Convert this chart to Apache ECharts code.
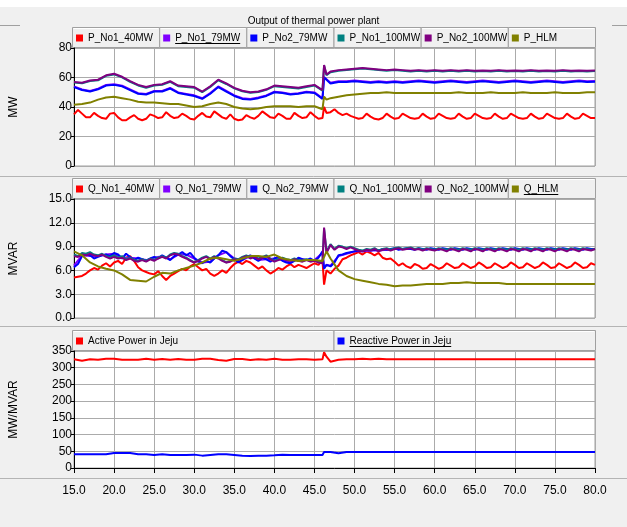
<!DOCTYPE html>
<html>
<head>
<meta charset="utf-8">
<script src="https://cdn.jsdelivr.net/npm/echarts@6/dist/echarts.min.js"></script>
<style>
html, body { margin: 0; padding: 0; background: #f0f0f0; }
#main { width: 627px; height: 527px; }
</style>
</head>
<body>
<div id="main"></div>
<script>
// time axes (s)
var T_FINE = [15,15.5,16,16.5,17,17.5,18,18.5,19,19.5,20,20.5,21,21.5,22,22.5,23,23.5,24,24.5,
  25,25.5,26,26.5,27,27.5,28,28.5,29,29.5,30,30.5,31,31.5,32,32.5,33,33.5,34,34.5,
  35,35.5,36,36.5,37,37.5,38,38.5,39,39.5,40,40.5,41,41.5,42,42.5,43,43.5,44,44.5,
  45,45.5,46,46.2,46.5,47,47.5,48,48.5,49,49.5,
  50,50.5,51,51.5,52,52.5,53,53.5,54,54.5,55,55.5,56,56.5,57,57.5,58,58.5,59,59.5,
  60,60.5,61,61.5,62,62.5,63,63.5,64,64.5,65,65.5,66,66.5,67,67.5,68,68.5,69,69.5,
  70,70.5,71,71.5,72,72.5,73,73.5,74,74.5,75,75.5,76,76.5,77,77.5,78,78.5,79,79.5,80];
var T_COARSE = [15,16,17,18,19,20,21,22,23,24,25,26,27,28,29,30,31,32,33,34,35,36,37,38,39,40,
  41,42,43,44,45,46,46.2,46.5,
  47,48,49,50,51,52,53,54,55,56,57,58,59,60,61,62,63,64,65,66,67,68,69,70,71,72,73,74,75,76,77,78,79,80];

var X_TICKS = [15, 80, 5];

// panel 1: active power (MW)
var P_No1_40MW = [35,38,35.5,33,33,36,34,32.5,32,35.5,
  36,33,31,31,33,34.5,32,31,32,35,
  34,32.5,33,36.5,34,32.5,33,35.5,34,32,
  31.5,34,36,33.5,33,37,35,33,32,35,
  32,31,31.5,34.5,33,32,34,37,35,33,
  32.5,35.5,34,32,32,36,34,32.5,33,36.5,
  34,32,32.5,
  40,36,36.5,38.5,36,34.5,35.5,34,
  33,32,32.5,35.5,33.5,32,31.5,32.5,35.5,33.5,
  32,32.5,35.5,34,32.5,32,32.5,35.5,33.5,32,
  32.5,35.5,34,32.5,32,32.5,35.5,33.5,32,32.5,
  35.5,34,32.5,32,32.5,35.5,33.5,32,32.5,35.5,
  34,32.5,32,32.5,35.5,33.5,32,32.5,35.5,34,
  32.5,32,32.5,35.5,33.5,32,32.5,35.5,34,32.5,
  32.5];
var P_No1_79MW = [53.9,51.9,50.9,52.4,54.9,55.4,54.4,51.9,49.4,48.9,
  50.9,50.9,52.9,49.9,48.9,47.9,45.9,49.4,53.9,50.9,
  47.9,45.9,45.4,46.4,47.9,50.4,49.9,48.9,49.4,50.4,
  49.9,45.9,
  60.4,58.9,
  56.4,57.4,57.4,57.9,57.4,56.9,57.4,56.9,57.4,56.9,
  57.4,57.9,57.4,56.9,57.4,57.9,57.4,56.9,57.4,57.9,
  57.4,56.9,57.4,57.9,57.4,56.9,57.4,57.9,57.4,56.9,
  57.4,57.9,57.4,57.6];
var P_No2_79MW = [53.5,51.5,50.5,52,54.5,55,54,51.5,49,48.5,
  50.5,50.5,52.5,49.5,48.5,47.5,45.5,49,53.5,50.5,
  47.5,45.5,45,46,47.5,50,49.5,48.5,49,50,
  49.5,45.5,
  60,58.5,
  56,57,57,57.5,57,56.5,57,56.5,57,56.5,
  57,57.5,57,56.5,57,57.5,57,56.5,57,57.5,
  57,56.5,57,57.5,57,56.5,57,57.5,57,56.5,
  57,57.5,57,57.2];
var P_No1_100MW = [56.6,56.1,57.6,58.1,61.1,62.1,60.1,57.1,54.6,53.1,
  54.6,55.1,57.1,54.1,53.6,53.1,50.1,53.6,58.1,55.6,
  52.6,50.6,49.6,50.1,51.6,54.1,53.6,53.1,52.6,53.6,
  54.6,51.1,
  68,61.6,
  63.6,64.6,65.1,65.6,66.1,65.6,65.1,64.6,65.1,64.6,
  64.1,64.6,64.1,64.6,64.1,64.6,64.1,64.6,64.1,64.4,
  64.1,64.6,64.1,64.4,64.1,64.6,64.1,64.4,64.1,64.6,
  64.1,64.4,64.1,64.4];
var P_No2_100MW = [57,56.5,58,58.5,61.5,62.5,60.5,57.5,55,53.5,
  55,55.5,57.5,54.5,54,53.5,50.5,54,58.5,56,
  53,51,50,50.5,52,54.5,54,53.5,53,54,
  55,51.5,
  68.5,62,
  64,65,65.5,66,66.5,66,65.5,65,65.5,65,
  64.5,65,64.5,65,64.5,65,64.5,65,64.5,64.8,
  64.5,65,64.5,64.8,64.5,65,64.5,64.8,64.5,65,
  64.5,64.8,64.5,64.8];
var P_HLM = [41.5,42,43,45,46.5,47,46,45,43.5,43,
  43,42.5,42,42,41,40,40.5,42,43,42,
  40,39,38.5,39,40,40.5,40.5,40.5,40,40.5,
  40.5,38.5,
  47,45,
  46,47,48,48.5,49,49.5,49.5,50,49.5,49.5,
  49.5,49.5,49.5,49.5,49.5,49.5,50,49.5,49.5,49.5,
  50,49.5,49.5,49.5,50,49.5,49.5,49.5,50,49.5,
  49.5,49.5,50,50];

// panel 2: reactive power
var Q_No1_40MW = [5.1,5.2,5.3,5.6,6.0,6.3,6.1,6.6,6.9,6.5,
  7.0,7.2,6.8,7.6,7.8,7.2,6.4,6.0,5.8,5.6,
  5.5,5.9,5.3,4.8,5.3,5.6,5.9,6.2,6.0,6.5,
  6.8,6.4,6.0,6.2,5.6,5.3,5.6,6.0,5.7,6.3,
  6.8,7.1,6.8,7.2,7.0,6.6,6.2,6.5,6.0,5.6,
  5.9,6.3,6.1,6.5,6.8,6.4,6.7,6.5,6.3,6.6,
  6.9,6.7,7.3,
  4.2,6.0,5.6,6.2,6.6,7.4,7.6,7.9,
  8.1,8.3,8.0,8.4,8.2,7.9,8.2,7.6,7.4,7.5,
  7.1,6.6,6.9,6.5,6.3,6.8,6.6,6.2,6.3,6.8,
  6.5,6.2,6.4,6.9,6.6,6.3,6.4,6.9,6.6,6.3,
  6.5,7.0,6.7,6.3,6.4,6.9,6.6,6.3,6.5,7.0,
  6.7,6.3,6.4,6.9,6.6,6.3,6.5,7.0,6.7,6.3,
  6.4,6.9,6.6,6.3,6.5,7.0,6.7,6.3,6.4,6.9,
  6.7];
var Q_No1_79MW = [6.6,7.9,7.8,7.8,8.0,8.1,7.6,7.6,7.5,7.3,
  7.6,7.8,7.4,8.0,8.0,7.5,7.0,7.1,7.9,8.3,
  7.5,7.3,7.8,7.3,7.4,7.5,7.3,7.0,7.5,7.3,
  7.3,8.2,
  6.3,6.7,
  6.6,7.8,8.1,8.4,8.4,8.5,8.5,8.6,8.7,8.7,
  8.7,8.7,8.7,8.7,8.7,8.7,8.7,8.7,8.7,8.7,
  8.7,8.7,8.7,8.7,8.7,8.7,8.7,8.7,8.7,8.7,
  8.7,8.7,8.7,8.7];
var Q_No2_79MW = [6.4,6.8,7.8,8.0,7.9,7.5,7.7,7.9,8.0,7.8,
  8.2,8.0,7.5,8.1,7.7,7.3,7.6,7.4,7.2,7.5,
  7.7,7.5,7.9,7.6,7.3,7.8,8.0,8.3,7.9,8.2,
  7.6,7.1,6.9,7.2,7.0,7.5,7.9,8.5,8.3,7.8,
  7.4,7.0,7.3,7.7,7.9,7.5,7.2,7.6,7.4,7.1,
  7.5,7.7,7.2,7.0,6.9,7.2,7.6,7.4,7.3,7.5,
  7.2,7.6,8.4,
  6.2,6.7,6.5,7.0,7.9,8.0,8.2,8.3,
  8.4,8.5,8.4,8.6,8.5,8.6,8.5,8.7,8.6,8.7,
  8.8,8.6,8.7,8.8,8.7,8.6,8.8,8.7,8.6,8.8,
  8.7,8.6,8.8,8.7,8.6,8.8,8.7,8.6,8.8,8.7,
  8.6,8.8,8.7,8.6,8.8,8.7,8.6,8.8,8.7,8.6,
  8.8,8.7,8.6,8.8,8.7,8.6,8.8,8.7,8.6,8.8,
  8.7,8.6,8.8,8.7,8.6,8.8,8.7,8.6,8.8,8.7,
  8.7];
var Q_No1_100MW = [8.0,7.8,8.2,8.1,8.3,8.0,7.9,8.1,7.8,7.7,
  7.9,7.6,7.8,7.4,7.6,7.3,7.2,7.4,7.2,7.5,
  7.3,7.6,7.8,7.6,8.0,8.2,8.1,7.8,7.6,7.3,
  7.0,7.3,7.6,7.8,7.5,7.8,7.6,7.3,7.0,7.2,
  7.5,7.4,7.7,7.9,7.6,7.8,7.5,7.7,7.9,7.5,
  7.2,7.4,7.6,7.4,7.3,7.5,7.3,7.2,7.4,7.2,
  7.3,7.1,7.0,
  11.2,8.4,9.3,8.7,9.1,9.0,8.8,9.0,
  8.8,8.6,8.5,8.7,8.6,8.8,8.5,8.7,8.8,8.6,
  8.8,8.9,8.7,8.8,8.9,8.7,8.8,8.6,8.8,8.7,
  8.6,8.8,8.7,8.6,8.8,8.7,8.6,8.8,8.7,8.6,
  8.8,8.7,8.6,8.8,8.7,8.6,8.8,8.7,8.6,8.8,
  8.7,8.6,8.8,8.7,8.6,8.8,8.7,8.6,8.8,8.7,
  8.6,8.8,8.7,8.6,8.8,8.7,8.6,8.8,8.7,8.6,
  8.7];
var Q_No2_100MW = [7.8,7.7,8.0,7.9,8.1,7.9,7.8,8.0,7.7,7.5,
  7.7,7.5,7.6,7.3,7.5,7.2,7.1,7.3,7.1,7.4,
  7.2,7.5,7.7,7.5,7.9,8.1,8.0,7.7,7.5,7.2,
  7.0,7.2,7.5,7.7,7.4,7.7,7.5,7.2,7.0,7.1,
  7.4,7.3,7.6,7.8,7.5,7.7,7.4,7.6,7.8,7.4,
  7.1,7.3,7.5,7.3,7.2,7.4,7.2,7.1,7.3,7.1,
  7.2,7.0,6.9,
  11.4,8.2,9.2,8.6,9.0,8.9,8.7,8.9,
  8.7,8.5,8.4,8.6,8.5,8.7,8.4,8.6,8.7,8.5,
  8.7,8.8,8.6,8.7,8.8,8.6,8.7,8.5,8.7,8.6,
  8.5,8.7,8.6,8.4,8.7,8.6,8.4,8.7,8.6,8.4,
  8.7,8.6,8.4,8.7,8.6,8.4,8.7,8.6,8.4,8.7,
  8.6,8.4,8.7,8.6,8.4,8.7,8.6,8.4,8.7,8.6,
  8.4,8.7,8.6,8.4,8.7,8.6,8.4,8.7,8.6,8.5,
  8.7];
var Q_HLM = [8.4,7.9,7.0,6.5,6.2,6.0,5.5,4.8,4.7,4.6,
  5.2,5.7,5.6,6.0,6.3,6.6,7.0,7.5,7.6,7.4,
  7.2,7.5,7.8,7.8,7.7,8.0,7.5,7.3,7.2,7.3,
  7.3,7.2,
  7.4,8.4,
  7.5,6.0,5.3,4.9,4.7,4.5,4.3,4.2,4.0,4.1,
  4.1,4.2,4.3,4.3,4.3,4.4,4.4,4.5,4.4,4.4,
  4.4,4.4,4.3,4.3,4.3,4.3,4.3,4.3,4.3,4.3,
  4.3,4.3,4.3,4.3];

// panel 3: Jeju totals
var ACTIVE_JEJU = [325,321,325,324,327,327,324,324,324,327,
  324,326,324,326,324,324,327,327,323,321,
  326,326,323,325,324,327,324,324,325,325,
  324,325,
  346,333,
  318,324,325,325,327,325,327,325,325,325,
  325,325,325,325,325,325,325,325,325,325,
  325,325,325,325,325,325,325,325,325,325,
  325,325,325,325];
var REACTIVE_JEJU = [41,41,41,41,45,45,45,41,41,39,
  41,39,39,39,40,37,39,41,41,39,
  37,36,37,37,38,40,39,39,39,39,
  39,36,
  48,48,
  44,48,48,48,48,48,48,48,48,48,
  48,48,48,48,48,48,48,48,48,48,
  48,48,48,48,48,48,48,48,48,48,
  48,48,48,48];

var LEGEND_1 = ['P_No1_40MW','P_No1_79MW','P_No2_79MW','P_No1_100MW','P_No2_100MW','P_HLM'];
var LEGEND_2 = ['Q_No1_40MW','Q_No1_79MW','Q_No2_79MW','Q_No1_100MW','Q_No2_100MW','Q_HLM'];
var LEGEND_3 = ['Active Power in Jeju','Reactive Power in Jeju'];
var UNDERLINED = ['P_No1_79MW','Q_HLM','Reactive Power in Jeju'];
var COLORS = ['#ff0000','#8000ff','#0000ff','#008080','#800080','#808000'];

var FONT = "'Liberation Sans',Arial,sans-serif";
var LEG_SIZE = 10;

function pairs(t, v) {
  return v.map(function (y, i) { return [t[i], y]; });
}

var chart = echarts.init(document.getElementById('main'), null, { renderer: 'canvas' });

var PLOT_L = 72, PLOT_W = 523;
var grids = [
  { left: PLOT_L, width: PLOT_W, top: 48, height: 118 },
  { left: PLOT_L, width: PLOT_W, top: 199, height: 119 },
  { left: PLOT_L, width: PLOT_W, top: 351, height: 117 }
];
grids.forEach(function (g) {
  g.show = true; g.backgroundColor = '#ffffff'; g.borderColor = '#a0a0a0'; g.borderWidth = 1;
});

function xAx(i) {
  var last = i === 2;
  return {
    type: 'value', gridIndex: i, min: X_TICKS[0], max: X_TICKS[1], interval: X_TICKS[2],
    offset: last ? 14 : 0,
    axisLine: { show: last, lineStyle: { color: '#000' } },
    axisTick: { show: last, length: 5, lineStyle: { color: '#000' } },
    axisLabel: { show: last, color: '#000', fontSize: 12, fontFamily: FONT, margin: 3,
      formatter: function (v) { return v.toFixed(1); } },
    splitLine: { show: true, lineStyle: { color: '#ababab', width: 1 } }
  };
}
function yAx(i, max, step, name, fmt) {
  return {
    type: 'value', gridIndex: i, min: 0, max: max, interval: step,
    name: name, nameLocation: 'middle', nameGap: 54,
    nameTextStyle: { color: '#000', fontSize: 12, fontFamily: FONT },
    axisLine: { show: true, lineStyle: { color: '#000' } },
    axisTick: { show: true, length: 3, lineStyle: { color: '#000' } },
    axisLabel: { color: '#000', fontSize: 12, fontFamily: FONT, margin: 2, formatter: fmt },
    splitLine: { show: true, lineStyle: { color: '#ababab', width: 1 } }
  };
}

function line(name, color, t, v, gi, step) {
  return {
    name: name, type: 'line', xAxisIndex: gi, yAxisIndex: gi,
    data: pairs(t, v), showSymbol: false, symbol: 'none', step: step || false,
    lineStyle: { color: color, width: 2 }, itemStyle: { color: color },
    animation: false
  };
}

var series = [
  line('P_No1_40MW', COLORS[0], T_FINE, P_No1_40MW, 0),
  line('P_No1_79MW', COLORS[1], T_COARSE, P_No1_79MW, 0),
  line('P_No2_79MW', COLORS[2], T_COARSE, P_No2_79MW, 0),
  line('P_No1_100MW', COLORS[3], T_COARSE, P_No1_100MW, 0),
  line('P_No2_100MW', COLORS[4], T_COARSE, P_No2_100MW, 0),
  line('P_HLM', COLORS[5], T_COARSE, P_HLM, 0),
  line('Q_No1_40MW', COLORS[0], T_FINE, Q_No1_40MW, 1),
  line('Q_No1_79MW', COLORS[1], T_COARSE, Q_No1_79MW, 1),
  line('Q_No2_79MW', COLORS[2], T_FINE, Q_No2_79MW, 1),
  line('Q_No1_100MW', COLORS[3], T_FINE, Q_No1_100MW, 1),
  line('Q_No2_100MW', COLORS[4], T_FINE, Q_No2_100MW, 1),
  line('Q_HLM', COLORS[5], T_COARSE, Q_HLM, 1),
  line('Active Power in Jeju', COLORS[0], T_COARSE, ACTIVE_JEJU, 2),
  line('Reactive Power in Jeju', COLORS[2], T_COARSE, REACTIVE_JEJU, 2, 'end')
];

// measure legend text so underlines sit under the right words
var measureCtx = document.createElement('canvas').getContext('2d');
measureCtx.font = LEG_SIZE + "px 'Liberation Sans', Arial, sans-serif";

// legend strips: one cell per entry, drawn as boxes above each plot
var legends = [], cells = [];
function legendRow(names, top) {
  var w = PLOT_W / names.length;
  names.forEach(function (n, k) {
    var x = PLOT_L + w * k;
    cells.push({ type: 'rect', shape: { x: x + 0.5, y: top - 20.5, width: w, height: 20 },
      style: { fill: '#f0f0f0', stroke: '#a0a0a0', lineWidth: 1 }, silent: true });
    cells.push({ type: 'line', shape: { x1: x + 1.5, y1: top - 19.5, x2: x + w - 1, y2: top - 19.5 },
      style: { stroke: '#ffffff' }, silent: true });
    legends.push({
      data: [n], left: x + 4, top: top - 15, itemWidth: 7, itemHeight: 7, icon: 'rect',
      selectedMode: false, padding: 0, itemGap: 0,
      textStyle: { color: '#000', fontSize: LEG_SIZE, fontFamily: FONT }
    });
    if (UNDERLINED.indexOf(n) >= 0) {
      var tw = measureCtx.measureText(n).width;
      cells.push({ type: 'line', shape: { x1: x + 16, y1: top - 4.5, x2: x + 16 + tw, y2: top - 4.5 },
        style: { stroke: '#000' }, silent: true, z: 10 });
    }
  });
}
legendRow(LEGEND_1, 48);
legendRow(LEGEND_2, 199);
legendRow(LEGEND_3, 351);

var deco = [
  { type: 'rect', shape: { x: 0, y: 0, width: 627, height: 7 }, style: { fill: '#ffffff' }, silent: true },
  { type: 'line', shape: { x1: 0, y1: 25.5, x2: 20, y2: 25.5 }, style: { stroke: '#a0a0a0' }, silent: true },
  { type: 'line', shape: { x1: 612, y1: 25.5, x2: 627, y2: 25.5 }, style: { stroke: '#a0a0a0' }, silent: true },
  { type: 'line', shape: { x1: 0, y1: 176.5, x2: 627, y2: 176.5 }, style: { stroke: '#b4b4b4' }, silent: true },
  { type: 'line', shape: { x1: 0, y1: 326.5, x2: 627, y2: 326.5 }, style: { stroke: '#b4b4b4' }, silent: true },
  { type: 'line', shape: { x1: 0, y1: 478.5, x2: 627, y2: 478.5 }, style: { stroke: '#b4b4b4' }, silent: true }
];

var option = {
  backgroundColor: '#f0f0f0',
  animation: false,
  title: {
    text: 'Output of thermal power plant', left: 'center', top: 11,
    textStyle: { color: '#000', fontSize: 10, fontWeight: 'normal', fontFamily: FONT }
  },
  graphic: deco.concat(cells),
  legend: legends,
  grid: grids,
  xAxis: [xAx(0), xAx(1), xAx(2)],
  yAxis: [
    yAx(0, 80, 20, 'MW'),
    yAx(1, 15, 3, 'MVAR', function (v) { return v.toFixed(1); }),
    yAx(2, 350, 50, 'MW/MVAR')
  ],
  series: series
};
chart.setOption(option);
</script>
</body>
</html>
